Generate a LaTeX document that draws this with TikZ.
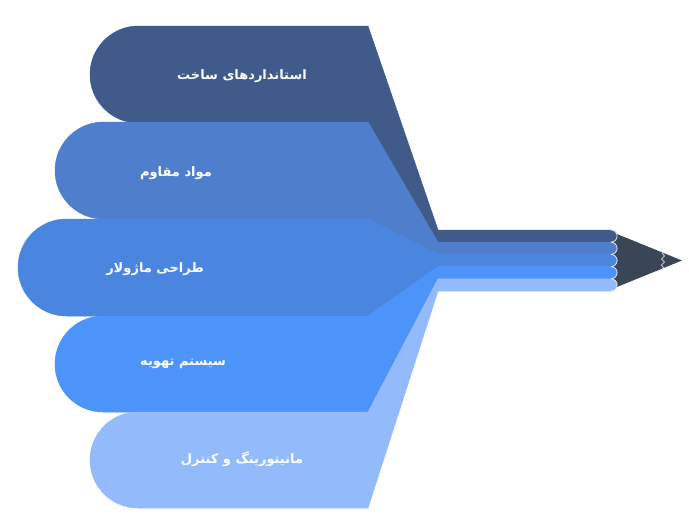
\documentclass[tikz,border=0pt]{standalone}
\usepackage{fontspec}
\newfontfamily\fa[Script=Arabic]{DejaVu Sans}
\TeXXeTstate=1
\definecolor{cA}{RGB}{64,90,138}
\definecolor{cB}{RGB}{79,127,204}
\definecolor{cC}{RGB}{74,134,224}
\definecolor{cD}{RGB}{76,147,250}
\definecolor{cE}{RGB}{147,186,250}
\definecolor{cTip}{RGB}{58,69,86}
\tikzset{
  lbl/.style={text=white, font=\fa\bfseries\fontsize{13}{15}\selectfont, inner sep=0pt},
  bump/.style={draw=white!80!cB, line width=0.8pt}
}
\newcommand{\petal}[7]{% color, left x, top, bottom, band top, band bottom, radius
  \filldraw[fill=#1, draw=#1, line width=0.5pt, line join=miter] (#2+#7,#3) -- (368,#3) -- (438,#5) -- (611,#5)
     arc[start angle=-90, end angle=90, radius={(#6-#5)/2}] -- (438,#6) -- (368,#4) -- (#2+#7,#4)
     arc[start angle=90, end angle=270, radius=#7] -- cycle;
}
\newcommand{\bumpline}[2]{%
  \draw[bump] (611,#1) arc[start angle=-90, end angle=90, radius={(#2-#1)/2}];
}
\begin{document}
\begin{tikzpicture}[x=1pt,y=-1pt]
\useasboundingbox (0,0) rectangle (689,530);
\fill[cTip] (612,232) -- (682,260.5) -- (612,289) -- cycle;
\draw[white, line width=0.6pt] (662,253) -- (664.5,256) -- (661.5,259) -- (664.5,262) -- (661.5,265) -- (663.5,268);
\petal{cA}{90}{26}{123}{230}{242.2}{48.5}
\petal{cB}{55}{122}{219}{242.2}{254.4}{48.5}
\petal{cC}{18}{219}{316}{254.4}{266.6}{48.5}
\petal{cD}{55}{316}{412}{266.6}{278.8}{48}
\petal{cE}{90}{412}{508}{278.8}{291}{48}
\bumpline{230}{242.2}
\bumpline{242.2}{254.4}
\bumpline{254.4}{266.6}
\bumpline{266.6}{278.8}
\bumpline{278.8}{291}
\node[lbl] (t1) at (242,76) {\beginR استانداردهای ساخت\endR};
\node[lbl] (t2) at (176,173) {\beginR مواد مقاوم\endR};
\node[lbl] (t3) at (155,269) {\beginR طراحی ماژولار\endR};
\node[lbl] (t4) at (183,364) {\beginR سیستم تهویه\endR};
\node[lbl] (t5) at (242,459) {\beginR مانیتورینگ و کنترل\endR};
\end{tikzpicture}
\end{document}
